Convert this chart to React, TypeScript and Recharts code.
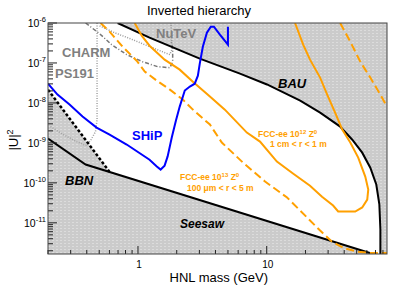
import React from 'react';
import { ComposedChart, Line, Area, XAxis, YAxis } from 'recharts';

// HNL mass (GeV) and |U|^2
const BAU_MASS = [0.695, 1.23, 3.02, 6.2, 10.05, 18.2, 26, 37, 46.2, 55.2, 63.8, 71, 75, 76.4, 76.4];
const BAU_U2 = [1e-6, 4.3e-7, 1.28e-7, 5.4e-8, 2.9e-8, 1.14e-8, 5.7e-9, 2.6e-9, 1.2e-9, 5.7e-10, 2.4e-10, 9.1e-11, 2.9e-11, 6.8e-12, 1.66e-12];

const SEESAW_MASS = [0.2, 0.392, 66.1];
const SEESAW_U2 = [1.28e-9, 2.88e-10, 1.68e-12];

const BBN_MASS = [0.2, 0.6];
const BBN_U2 = [2.15e-8, 1.9e-10];

const PS191_MASS = [0.209, 0.264, 0.333, 0.392, 0.428, 0.468, 0.481, 0.481];
const PS191_U2 = [2.56e-9, 1.61e-9, 1.08e-9, 8.6e-10, 1.14e-9, 1.92e-9, 3.8e-9, 1e-6];

const CHARM_MASS = [0.392, 0.503, 0.624, 0.817, 1.088, 1.42, 1.77, 1.86, 1.86, 1.8];
const CHARM_U2 = [1e-6, 5.4e-7, 2.88e-7, 1.62e-7, 1.07e-7, 8.1e-8, 7.6e-8, 1.07e-7, 2.4e-7, 3.8e-7];

const NUTEV_MASS = [0.503, 0.659, 0.862, 1.128, 1.476, 1.77, 1.83, 1.83, 1.8];
const NUTEV_U2 = [8.5e-7, 5.7e-7, 4.1e-7, 2.88e-7, 2.03e-7, 1.62e-7, 2.14e-7, 5.1e-7, 1e-6];

const SHIP_MASS = [0.2, 0.237, 0.294, 0.371, 0.477, 0.602, 0.817, 1.23, 1.4, 1.5, 1.61, 1.7, 1.83, 1.97, 2.11, 2.31, 2.53, 2.76, 2.92, 3.02, 3.19, 3.43, 3.68, 3.89, 4.33, 5.0, 5.0];
const SHIP_U2 = [3.03e-8, 1.62e-8, 9.1e-9, 4.6e-9, 2.42e-9, 1.61e-9, 9.1e-10, 3.8e-10, 2.57e-10, 2.15e-10, 2.7e-10, 4.6e-10, 1.36e-9, 3.6e-9, 8.1e-9, 2.04e-8, 2.57e-8, 3.03e-8, 4.8e-8, 9.6e-8, 2.55e-7, 5.7e-7, 8.1e-7, 8.1e-7, 5.1e-7, 2.88e-7, 8.1e-7];

// FCC-ee 10^12 Z0, 1 cm < r < 1 m (closed contour)
const FCC12_MASS = [0.943, 1.069, 1.23, 1.61, 2.11, 2.67, 3.62, 4.73, 7.01, 8.87, 12.0, 16.0, 21.7, 26.9, 32.8, 35.9, 48.7, 55.2, 60.4, 61.5, 58.3, 51.4, 44.6, 38.6, 34.0, 29.5, 26.0, 21.7, 19.2, 16.6];
const FCC12_U2 = [1e-6, 4.8e-7, 2.7e-7, 1.21e-7, 6.8e-8, 3.4e-8, 1.44e-8, 6.8e-9, 1.81e-9, 1.08e-9, 3.4e-10, 1.71e-10, 8.5e-11, 4.5e-11, 2.7e-11, 1.92e-11, 1.92e-11, 2.42e-11, 3.8e-11, 6.8e-11, 1.44e-10, 4.3e-10, 1.02e-9, 2.15e-9, 5.7e-9, 1.62e-8, 4.3e-8, 1.21e-7, 2.88e-7, 1e-6];

// FCC-ee 10^13 Z0, 100 um < r < 5 m (two branches)
const FCC13_MASS = [0.512, 0.602, 0.76, 0.977, 1.128, 1.4, 1.77, 2.23, 2.67, 3.62, 4.48, 6.55, 9.71, 14.4, 20.6, 26.0, 32.0, 40.4, 51.4, 63.8, 86];
const FCC13_U2 = [1e-6, 6.1e-7, 2.55e-7, 1.14e-7, 6.1e-8, 3.6e-8, 2.15e-8, 1.21e-8, 6.8e-9, 2.88e-9, 1.02e-9, 3.2e-10, 1.08e-10, 4.3e-11, 1.36e-11, 6.4e-12, 3.4e-12, 2.28e-12, 1.9e-12, 1.75e-12, 1.75e-12];
const FCC13R_MASS = [37.2, 44.6, 53.3, 63.8, 76.3, 86];
const FCC13R_U2 = [1e-6, 3.4e-7, 1.08e-7, 4.3e-8, 1.62e-8, 8.1e-9];

const M_MIN = 0.2;
const M_MAX = 86;
const U_MIN_LOG = -11.78;
const U_MAX_LOG = -6;

const FONT = '"Liberation Sans", Arial, Helvetica, sans-serif';
const ORANGE = '#ffa000';
const GRAY_TXT = '#808080';

const X_MIN = Math.log10(M_MIN);
const X_MAX = Math.log10(M_MAX);

const toPoints = (mass: number[], u2: number[]) =>
  mass.map((m, i) => ({ x: Math.log10(m), y: Math.log10(u2[i]) }));

const isMajor = (v: number) => Math.abs(v - Math.round(v)) < 1e-6;

const xTicks: number[] = [];
[0.1, 1, 10].forEach((d) => {
  for (let k = 1; k <= 9; k++) {
    const v = Math.log10(k * d);
    if (v >= X_MIN - 1e-9 && v <= X_MAX + 1e-9) xTicks.push(v);
  }
});

const yTicks: number[] = [];
for (let e = -12; e <= -6; e++) {
  for (let k = 1; k <= 9; k++) {
    const v = e + Math.log10(k);
    if (v >= U_MIN_LOG - 1e-9 && v <= U_MAX_LOG + 1e-9) yTicks.push(v);
  }
}

const XTick = (props: any) => {
  const { x, y, payload } = props;
  const v = payload.value;
  const major = isMajor(v);
  return (
    <g>
      <line x1={x} x2={x} y1={y} y2={y - (major ? 8 : 4)} stroke="#222" strokeWidth={1} />
      {major && (
        <text x={x + 1} y={y + 14} textAnchor="middle" fontSize={10} fontFamily={FONT} fill="#000">
          {Math.round(Math.pow(10, v))}
        </text>
      )}
    </g>
  );
};

const YTick = (props: any) => {
  const { x, y, payload } = props;
  const v = payload.value;
  const major = isMajor(v);
  return (
    <g>
      <line x1={x} x2={x + (major ? 9 : 5)} y1={y} y2={y} stroke="#222" strokeWidth={1} />
      {major && (
        <text x={x - 2} y={y + 4} textAnchor="end" fontSize={10.5} fontFamily={FONT} fill="#000">
          10<tspan dy={-5} fontSize={7.5}>{Math.round(v)}</tspan>
        </text>
      )}
    </g>
  );
};

const App: React.FC = () => {
  const bau = toPoints(BAU_MASS, BAU_U2);
  const seesaw = toPoints(SEESAW_MASS, SEESAW_U2);
  const bbn = toPoints(BBN_MASS, BBN_U2);

  // excluded regions: above BAU (plus strip on the right) and below BBN / seesaw
  const upperGray = [...bau, { x: X_MAX, y: U_MIN_LOG }];
  const lowerGray = [bbn[0], bbn[bbn.length - 1], seesaw[seesaw.length - 1], { x: X_MAX, y: U_MIN_LOG }];

  const lines = [
    { key: 'ps191', pts: toPoints(PS191_MASS, PS191_U2), color: '#a0a0a0', w: 1.5, dash: '1 1.5' },
    { key: 'charm', pts: toPoints(CHARM_MASS, CHARM_U2), color: '#777777', w: 1.5, dash: '4 2 1 2' },
    { key: 'nutev', pts: toPoints(NUTEV_MASS, NUTEV_U2), color: '#999999', w: 1.5, dash: '1 1.5' },
    { key: 'bbn', pts: bbn, color: '#000', w: 2.5, dash: '3 2' },
    { key: 'seesaw', pts: seesaw, color: '#000', w: 2, dash: undefined },
    { key: 'bau', pts: bau, color: '#000', w: 2, dash: undefined },
    { key: 'fcc13', pts: toPoints(FCC13_MASS, FCC13_U2), color: ORANGE, w: 2, dash: '8 4' },
    { key: 'fcc13r', pts: toPoints(FCC13R_MASS, FCC13R_U2), color: ORANGE, w: 2, dash: '8 4' },
    { key: 'fcc12', pts: toPoints(FCC12_MASS, FCC12_U2), color: ORANGE, w: 2, dash: undefined },
    { key: 'ship', pts: toPoints(SHIP_MASS, SHIP_U2), color: '#0000ff', w: 2, dash: undefined },
  ];

  return (
    <div style={{ position: 'absolute', left: 0, top: 0, width: 399, height: 290, background: '#fff' }}>
      <svg width={0} height={0} style={{ position: 'absolute' }}>
        <defs>
          <pattern id="grayPat" width={4} height={3} patternUnits="userSpaceOnUse">
            <rect width={4} height={3} fill="#cbcbcb" />
            <rect x={0} y={0} width={2} height={1} fill="#dcdcdc" />
          </pattern>
        </defs>
      </svg>
      <ComposedChart width={399} height={290} margin={{ top: 23, right: 12, bottom: 0, left: 0 }}>
        <XAxis
          dataKey="x"
          type="number"
          domain={[X_MIN, X_MAX]}
          allowDataOverflow
          ticks={xTicks}
          interval={0}
          tick={<XTick />}
          tickSize={0}
          tickMargin={0}
          tickLine={false}
          axisLine={false}
          height={36}
        />
        <YAxis
          type="number"
          domain={[U_MIN_LOG, U_MAX_LOG]}
          allowDataOverflow
          ticks={yTicks}
          interval={0}
          tick={<YTick />}
          tickSize={0}
          tickMargin={0}
          tickLine={false}
          axisLine={false}
          width={48}
        />
        <Area
          data={upperGray}
          dataKey="y"
          type="linear"
          baseValue={U_MAX_LOG}
          stroke="none"
          fill="url(#grayPat)"
          fillOpacity={1}
          isAnimationActive={false}
        />
        <Area
          data={lowerGray}
          dataKey="y"
          type="linear"
          baseValue={U_MIN_LOG}
          stroke="none"
          fill="url(#grayPat)"
          fillOpacity={1}
          isAnimationActive={false}
        />
        {lines.map((l) => (
          <Line
            key={l.key}
            data={l.pts}
            dataKey="y"
            type="linear"
            stroke={l.color}
            strokeWidth={l.w}
            strokeDasharray={l.dash}
            dot={false}
            activeDot={false}
            isAnimationActive={false}
          />
        ))}
      </ComposedChart>
      <svg
        width={399}
        height={290}
        style={{ position: 'absolute', left: 0, top: 0, pointerEvents: 'none' }}
        fontFamily={FONT}
      >
        <rect x={48} y={23} width={339} height={231} fill="none" stroke="#444" strokeWidth={1} />
        <text x={199} y={15} textAnchor="middle" fontSize={13} fill="#000">Inverted hierarchy</text>
        <text transform="translate(18,140) rotate(-90)" textAnchor="middle" fontSize={13} fill="#000">
          |U|<tspan dy={-5} fontSize={9}>2</tspan>
        </text>
        <text x={268} y={282} textAnchor="end" fontSize={13} fill="#000">HNL mass (GeV)</text>

        <text x={62} y={57} fontSize={13} fontWeight="bold" fill={GRAY_TXT}>CHARM</text>
        <text x={55} y={78} fontSize={13} fontWeight="bold" fill={GRAY_TXT}>PS191</text>
        <text x={156} y={38} fontSize={13} fontWeight="bold" fill={GRAY_TXT}>NuTeV</text>
        <text x={132} y={140} fontSize={13} fontWeight="bold" fill="#0000ff">SHiP</text>
        <text x={278} y={88} fontSize={13} fontWeight="bold" fontStyle="italic" fill="#000">BAU</text>
        <text x={65} y={185} fontSize={13} fontWeight="bold" fontStyle="italic" fill="#000">BBN</text>
        <text x={180} y={228} fontSize={12} fontWeight="bold" fontStyle="italic" fill="#000">Seesaw</text>

        <text x={258} y={137} fontSize={8.5} fontWeight="bold" fill={ORANGE}>
          FCC-ee 10<tspan dy={-3} fontSize={6}>12</tspan><tspan dy={3}> Z</tspan><tspan dy={-3} fontSize={6}>0</tspan>
        </text>
        <text x={270} y={147} fontSize={8.5} fontWeight="bold" fill={ORANGE}>1 cm &lt; r &lt; 1 m</text>
        <text x={180} y={180} fontSize={8.5} fontWeight="bold" fill={ORANGE}>
          FCC-ee 10<tspan dy={-3} fontSize={6}>13</tspan><tspan dy={3}> Z</tspan><tspan dy={-3} fontSize={6}>0</tspan>
        </text>
        <text x={187} y={191} fontSize={8.5} fontWeight="bold" fill={ORANGE}>100 μm &lt; r &lt; 5 m</text>
      </svg>
    </div>
  );
};

export default App;
